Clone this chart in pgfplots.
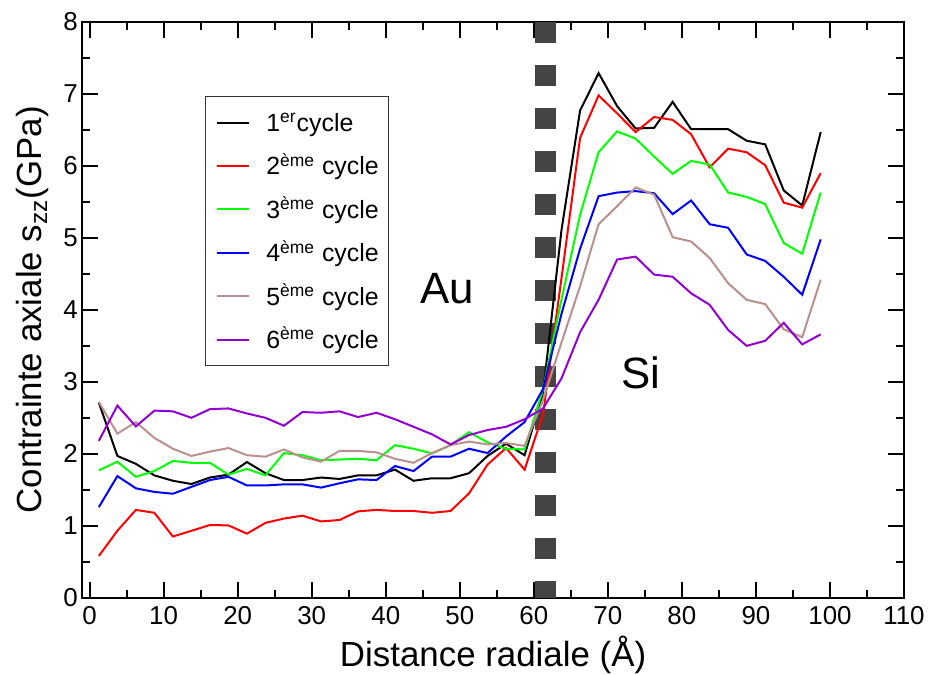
\documentclass[border=0pt]{standalone}
\usepackage{pgfplots}
\pgfplotsset{compat=1.18}
\usepackage{pgfplotstable}
\usepackage{fontspec}
\setmainfont{Liberation Sans}
\definecolor{cbrown}{RGB}{188,143,143}
\definecolor{cviolet}{RGB}{148,0,211}
\definecolor{cgreen}{RGB}{0,255,0}
\definecolor{cred}{RGB}{255,0,0}
\definecolor{cblue}{RGB}{0,0,255}
\definecolor{dashgray}{RGB}{68,68,68}

\pgfplotstableread{
x a b c d e f
1.25 2.71 0.58 1.77 1.26 2.72 2.18
3.75 1.97 0.93 1.89 1.69 2.28 2.67
6.25 1.86 1.22 1.68 1.52 2.44 2.38
8.75 1.70 1.18 1.76 1.47 2.22 2.60
11.25 1.625 0.85 1.90 1.445 2.07 2.59
13.75 1.58 0.93 1.875 1.54 1.97 2.50
16.25 1.67 1.01 1.875 1.635 2.03 2.62
18.75 1.71 1.005 1.71 1.68 2.08 2.63
21.25 1.885 0.89 1.79 1.56 1.98 2.56
23.75 1.73 1.04 1.70 1.56 1.96 2.50
26.25 1.635 1.10 2.01 1.575 2.06 2.39
28.75 1.635 1.14 1.98 1.575 1.95 2.58
31.25 1.67 1.06 1.91 1.53 1.89 2.57
33.75 1.65 1.08 1.92 1.59 2.04 2.59
36.25 1.70 1.20 1.93 1.645 2.04 2.51
38.75 1.70 1.22 1.91 1.635 2.02 2.57
41.25 1.78 1.205 2.12 1.83 1.93 2.48
43.75 1.625 1.205 2.07 1.76 1.875 2.375
46.25 1.66 1.18 2.005 1.96 2.01 2.27
48.75 1.66 1.205 2.12 1.96 2.12 2.13
51.25 1.73 1.45 2.30 2.07 2.17 2.26
53.75 1.97 1.85 2.16 2.01 2.13 2.33
56.25 2.14 2.08 2.07 2.24 2.15 2.375
58.75 1.98 1.78 2.06 2.44 2.11 2.48
61.25 2.85 2.55 2.90 2.90 2.75 2.63
63.75 5.12 4.45 4.15 3.95 3.55 3.05
66.25 6.77 6.39 5.32 4.85 4.33 3.69
68.75 7.29 6.98 6.19 5.58 5.19 4.14
71.25 6.83 6.73 6.48 5.63 5.44 4.70
73.75 6.52 6.47 6.38 5.65 5.70 4.74
76.25 6.53 6.68 6.13 5.62 5.60 4.49
78.75 6.89 6.64 5.89 5.33 5.01 4.46
81.25 6.51 6.44 6.07 5.52 4.95 4.23
83.75 6.51 5.98 6.02 5.19 4.72 4.07
86.25 6.51 6.24 5.63 5.14 4.37 3.72
88.75 6.35 6.19 5.57 4.77 4.14 3.50
91.25 6.30 6.01 5.47 4.68 4.08 3.57
93.75 5.66 5.49 4.93 4.46 3.73 3.82
96.25 5.45 5.42 4.78 4.21 3.62 3.52
98.75 6.47 5.90 5.63 4.98 4.42 3.66
}\datatable

\begin{document}
\begin{tikzpicture}
\begin{axis}[
  scale only axis, width=410.8bp, height=287.8bp,
  xmin=-1, xmax=110, ymin=0, ymax=8,
  xtick={0,10,...,110}, ytick={0,1,...,8},
  minor x tick num=1, minor y tick num=1,
  tick align=inside, major tick length=8bp, minor tick length=4bp,
  axis line style={line width=1bp},
  every tick/.style={line width=1bp, black},
  tick label style={font=\fontsize{13}{15}\selectfont},
  yticklabel style={inner xsep=2bp},
  xticklabel style={inner ysep=4bp},
  /pgf/number format/assume math mode=true,
  xlabel={Distance radiale (Å)},
  ylabel={Contrainte axiale s\textsubscript{zz}(GPa)},
  label style={font=\fontsize{17.5}{20}\selectfont},
  xlabel style={at={(axis description cs:0.5,-0.0995)}, anchor=center},
  ylabel style={at={(axis description cs:-0.06,0.5)}, anchor=center},
  legend style={at={(0.1493,0.8715)}, anchor=north west,
    draw=black!80, line width=0.6bp, fill=white,
    font=\fontsize{12.5}{14}\selectfont,
    nodes={inner sep=0pt, text height=10.5bp, text depth=1.5bp},
    row sep=9.7bp, column sep=8.4bp, inner xsep=5bp, inner ysep=7bp},
  legend cell align=left,
  legend image code/.code={\draw[#1] (0bp,0bp) -- (16bp,0bp);},
]
\addplot[forget plot, dashgray, line width=10.5bp, dash pattern=on 10.35bp off 11.15bp] coordinates {(61.6,8) (61.6,0)};
\addplot[black, line width=1bp] table[x=x,y=a]{\datatable};
\addplot[cred, line width=1bp] table[x=x,y=b]{\datatable};
\addplot[cgreen, line width=1bp] table[x=x,y=c]{\datatable};
\addplot[cblue, line width=1bp] table[x=x,y=d]{\datatable};
\addplot[cbrown, line width=1bp] table[x=x,y=e]{\datatable};
\addplot[cviolet, line width=1bp] table[x=x,y=f]{\datatable};
\legend{1\textsuperscript{er}cycle, 2\textsuperscript{ème} cycle, 3\textsuperscript{ème} cycle, 4\textsuperscript{ème} cycle, 5\textsuperscript{ème} cycle, 6\textsuperscript{ème} cycle}
\node[font=\fontsize{22}{26}\selectfont] at (axis cs:48.3,4.29) {Au};
\node[font=\fontsize{22}{26}\selectfont] at (axis cs:74.5,3.13) {Si};
\end{axis}
\pgfresetboundingbox
\path ([shift={(-41.1bp,-38.2bp)}]current axis.south west) rectangle ([shift={(13.5bp,11bp)}]current axis.north east);
\end{tikzpicture}
\end{document}
